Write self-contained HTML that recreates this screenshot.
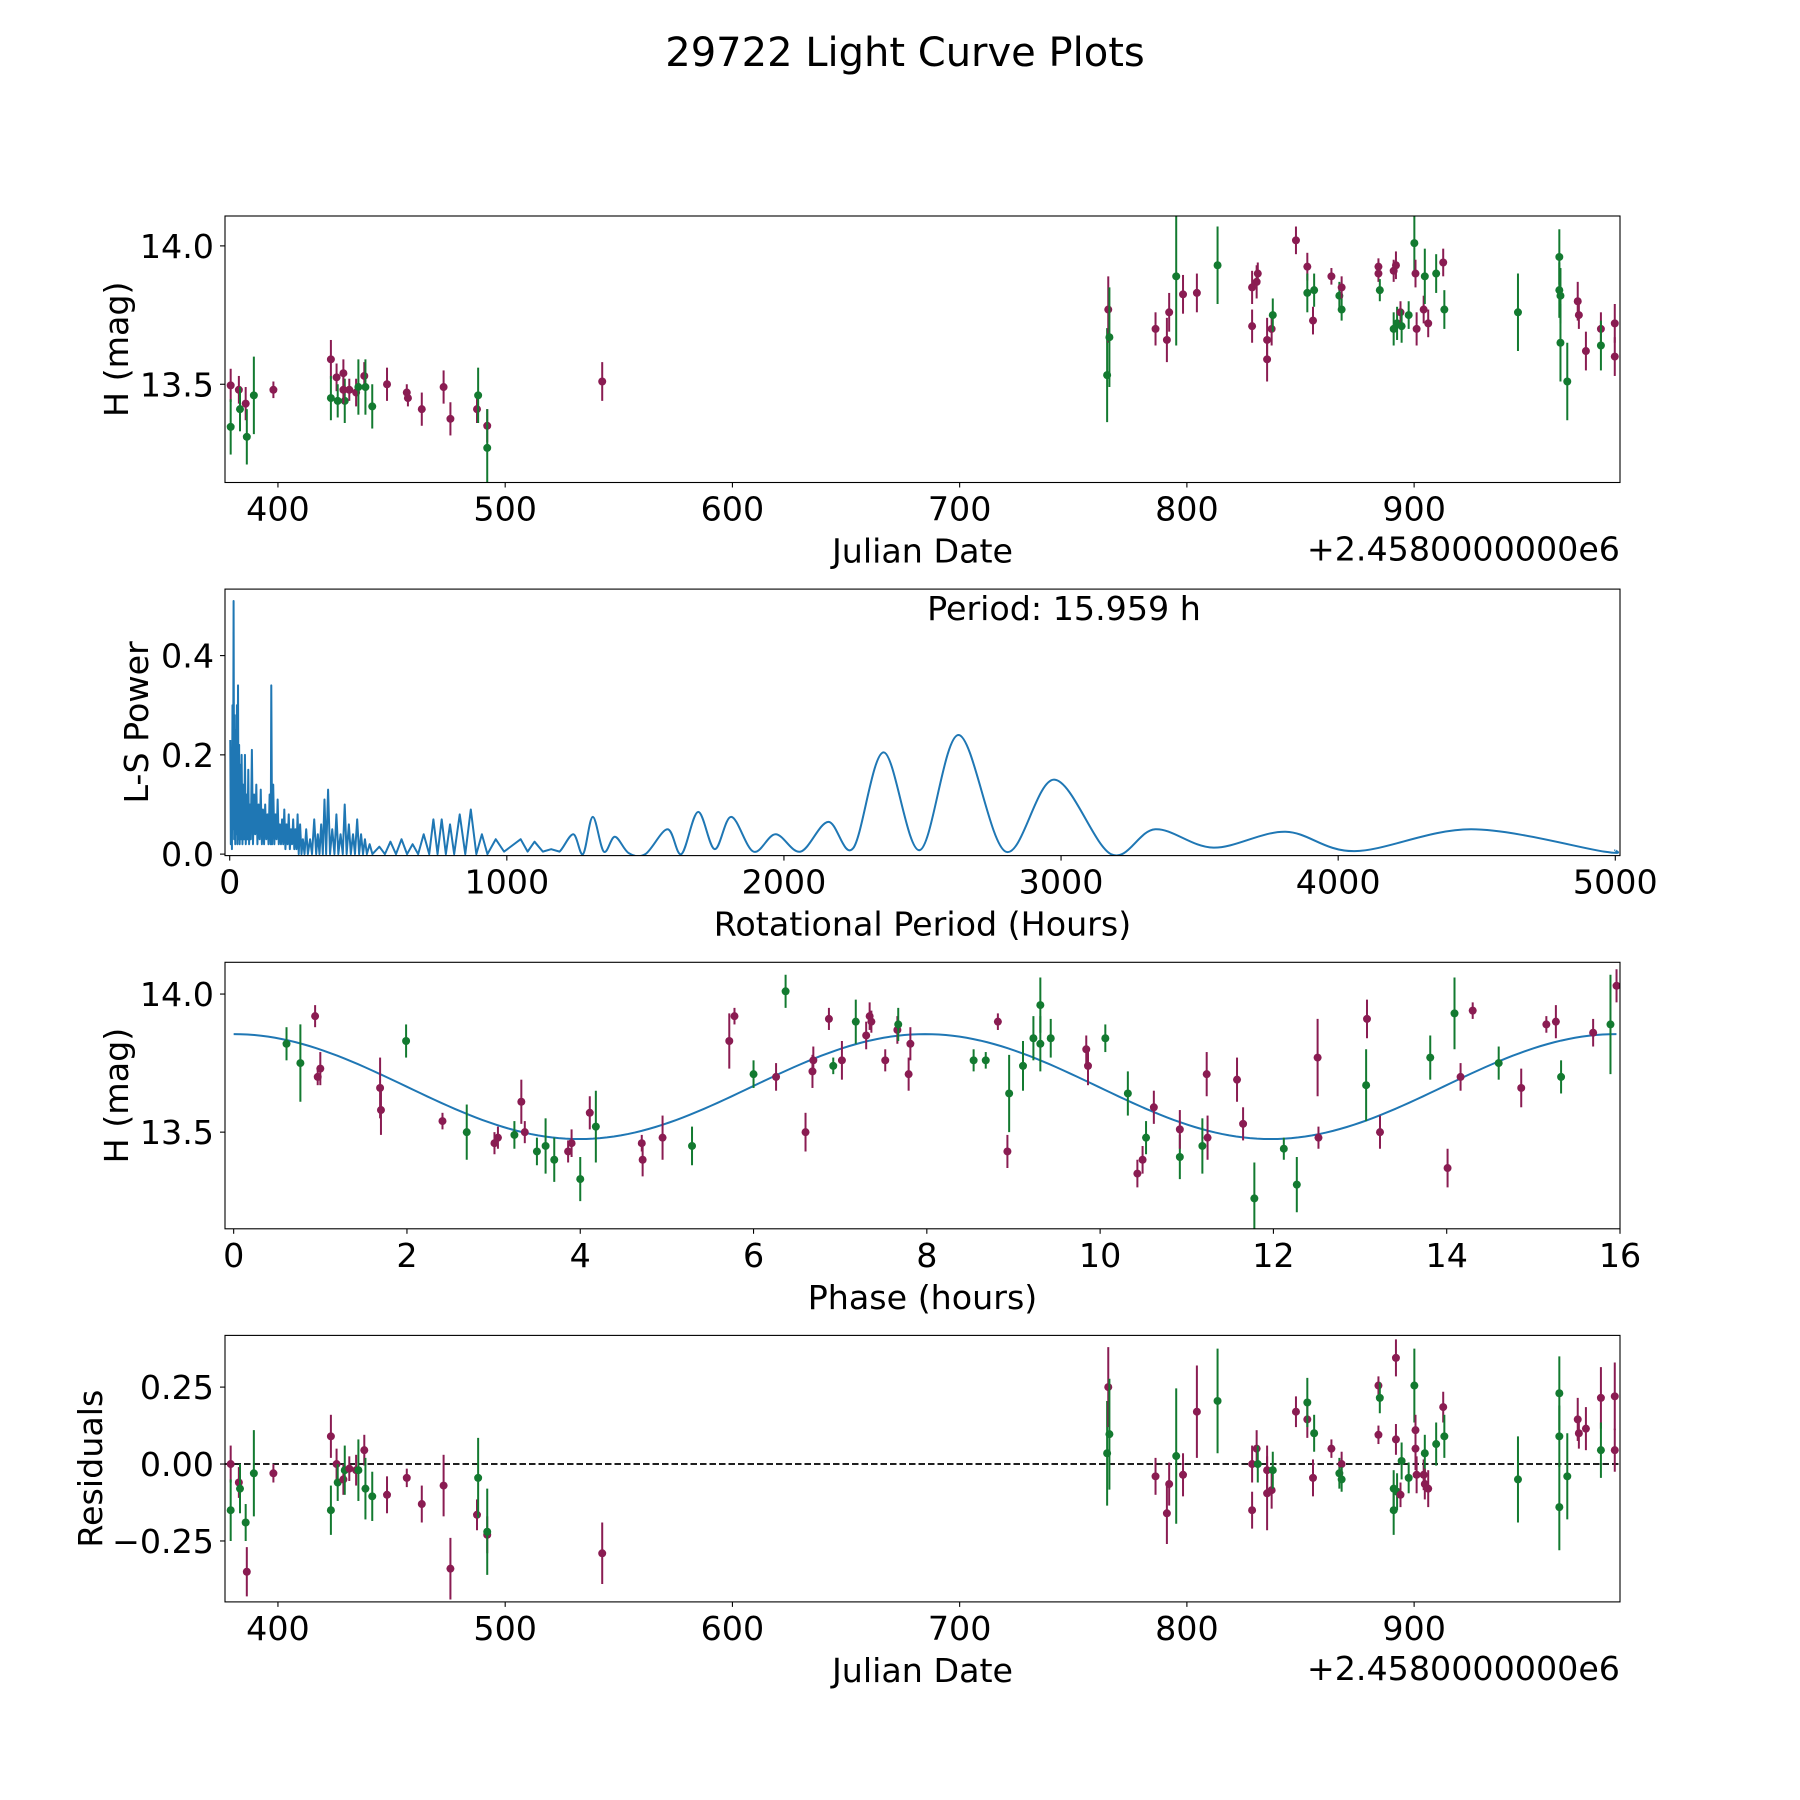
<!DOCTYPE html>
<html><head><meta charset="utf-8"><style>
html,body{margin:0;padding:0;background:#fff}
svg{display:block;font-family:"DejaVu Sans","Liberation Sans",sans-serif}
</style></head><body>
<svg id="fig" width="1800" height="1800" viewBox="0 0 1800 1800" xmlns="http://www.w3.org/2000/svg">
<rect width="1800" height="1800" fill="#fff"/>
<text x="905" y="66" font-size="40" text-anchor="middle">29722 Light Curve Plots</text>
</svg>
<script>
// ---- Light curve (panel 1) data ----
const lcJD = [379.2,379.2,382.8,383.3,385.8,386.3,389.4,398,423.3,423.3,425.8,426.3,428.8,429.4,428.8,431.4,434.4,435.4,438,438.5,441.5,448,456.7,457.2,463.3,472.9,475.9,487.6,488.1,492.1,492.1,542.7,
764.9,765.4,765.9,786.2,791.2,792.2,795.3,798.3,804.4,813.5,828.7,828.7,830.7,831.2,835.3,835.3,837.3,837.8,848,853,853,856,855.5,863.6,867.1,868.1,868.1,884.3,884.3,884.9,891,891,892,892.5,894,894.5,897.6,900.1,900.6,901.1,904.2,904.7,906.2,909.7,912.8,913.3,945.7,963.9,963.9,964.4,964.4,967.4,972,972.5,975.6,982.2,982.2,988.3,988.3];
const lcMag = [13.496,13.346,13.48,13.41,13.43,13.31,13.46,13.48,13.59,13.45,13.525,13.44,13.54,13.44,13.48,13.48,13.47,13.49,13.53,13.49,13.42,13.50,13.47,13.45,13.41,13.49,13.375,13.41,13.46,13.35,13.27,13.51,
13.533,13.77,13.67,13.70,13.66,13.76,13.89,13.825,13.83,13.93,13.85,13.71,13.87,13.90,13.59,13.66,13.70,13.75,14.02,13.925,13.83,13.84,13.73,13.89,13.82,13.85,13.77,13.925,13.90,13.84,13.70,13.91,13.93,13.72,13.76,13.71,13.75,14.01,13.90,13.70,13.77,13.89,13.72,13.90,13.94,13.77,13.76,13.96,13.84,13.82,13.65,13.51,13.80,13.75,13.62,13.70,13.64,13.72,13.60];
const lcErr = [0.06,0.1,0.05,0.08,0.06,0.1,0.14,0.03,0.07,0.08,0.05,0.06,0.05,0.08,0.05,0.04,0.05,0.1,0.05,0.1,0.08,0.06,0.03,0.03,0.06,0.06,0.06,0.05,0.1,0.06,0.14,0.07,
0.17,0.12,0.18,0.06,0.08,0.07,0.25,0.07,0.07,0.14,0.06,0.06,0.06,0.04,0.08,0.08,0.06,0.06,0.05,0.05,0.07,0.06,0.05,0.03,0.05,0.04,0.04,0.03,0.03,0.04,0.06,0.04,0.05,0.06,0.04,0.06,0.05,0.1,0.05,0.06,0.05,0.1,0.05,0.07,0.05,0.07,0.14,0.1,0.1,0.1,0.14,0.14,0.07,0.05,0.07,0.06,0.09,0.07,0.07];
const lcColor = ['p','g','p','g','p','g','g','p','p','g','p','g','p','g','p','p','p','g','p','g','g','p','p','p','p','p','p','p','g','p','g','p',
'g','p','g','p','p','p','g','p','p','g','p','p','p','p','p','p','p','g','p','p','g','g','p','p','g','p','g','p','p','g','g','p','p','g','p','g','g','g','p','p','p','g','p','g','p','g','g','g','g','g','g','g','p','p','p','p','g','p','p'];

// ---- Periodogram (panel 2) data ----
const lsPeriod = [2,4,6,8,10,12,14,16,18,20,22,24,26,28,30,32,34,36,38,40,43,46,49,52,55,58,61,64,67,70,73,76,80,84,88,92,96,100,104,108,112,116,120,124,128,132,136,140,144,148,150,153,157,161,165,169,173,177,181,185,189,193,197,201,205,209,213,217,221,225,229,233,237,241,245,249,254,259,264,270,276,282,290,297,305,312,318,324,330,336,342,348,355,362,370,378,385,392,400,408,415,422,430,437,445,452,460,467,474,481,488,495,505,515,540,560,580,600,620,640,660,680,700,720,735,750,765,780,795,810,830,850,870,890,910,930,960,990,1050,1075,1100,1130,1160,1190,
1240,1275,1310,1350,1390,1440,1500,1580,1630,1690,1750,1810,1890,1970,2060,2160,2250,2360,2490,2630,2800,2975,3180,3340,3550,3810,4060,4480,4960,5000];
const lsPower = [0.23,0.02,0.2,0.01,0.3,0.05,0.51,0.03,0.28,0.02,0.25,0.04,0.3,0.02,0.34,0.03,0.22,0.02,0.18,0.03,0.2,0.02,0.14,0.03,0.2,0.02,0.12,0.03,0.17,0.02,0.1,0.03,0.21,0.02,0.12,0.04,0.14,0.02,0.1,0.03,0.13,0.02,0.09,0.02,0.1,0.03,0.08,0.02,0.12,0.02,0.34,0.02,0.14,0.02,0.08,0.03,0.11,0.02,0.06,0.02,0.07,0.02,0.09,0.01,0.06,0.02,0.08,0.01,0.05,0.02,0.07,0.01,0.05,0.01,0.08,0.0,0.06,0.0,0.03,0.0,0.05,0.0,0.03,0.0,0.07,0.0,0.04,0.0,0.06,0.0,0.11,0.0,0.13,0.0,0.05,0.0,0.08,0.0,0.04,0.0,0.1,0.0,0.06,0.0,0.04,0.0,0.07,0.0,0.04,0.0,0.03,0.0,0.02,0.0,0.015,0.0,0.025,0.0,0.03,0.0,0.02,0.0,0.04,0.0,0.07,0.0,0.07,0.0,0.06,0.0,0.08,0.0,0.09,0.0,0.04,0.0,0.03,0.005,0.03,0.005,0.025,0.005,0.01,0.005,
0.04,0.0,0.075,0.005,0.035,0.002,0.0,0.05,0.0,0.085,0.01,0.075,0.005,0.04,0.005,0.065,0.012,0.205,0.008,0.24,0.005,0.15,0.0,0.05,0.013,0.045,0.006,0.05,0.005,0.008];
const lsSmoothFrom = 1190;
const periodLabel = ['Period: 15.959 h'];

// ---- Phase-folded (panel 3) data ----
const phPhase = [0.61,0.77,0.94,0.97,1.0,1.69,1.70,1.99,2.41,2.69,3.01,3.05,3.24,3.32,3.36,3.50,3.60,3.70,3.86,3.90,4.0,4.11,4.18,4.71,4.72,4.95,5.29,5.72,5.78,6.0,6.26,6.37,6.60,6.68,6.69,6.87,6.92,7.02,7.18,7.30,7.34,7.36,7.52,7.66,7.67,7.79,7.81,8.54,8.68,8.82,8.93,8.95,9.11,9.23,9.31,9.31,9.43,9.84,9.86,10.06,10.32,10.43,10.49,10.53,10.62,10.92,10.92,11.18,11.23,11.24,11.58,11.65,11.78,12.12,12.27,12.51,12.52,13.07,13.08,13.23,13.81,14.01,14.09,14.16,14.30,14.60,14.86,15.15,15.26,15.32,15.69,15.89,15.96];
const phMag = [13.82,13.75,13.92,13.70,13.73,13.66,13.58,13.83,13.54,13.50,13.46,13.48,13.49,13.61,13.50,13.43,13.45,13.40,13.43,13.46,13.33,13.57,13.52,13.46,13.40,13.48,13.45,13.83,13.92,13.71,13.70,14.01,13.50,13.72,13.76,13.91,13.74,13.76,13.90,13.85,13.92,13.90,13.76,13.87,13.89,13.71,13.82,13.76,13.76,13.90,13.43,13.64,13.74,13.84,13.82,13.96,13.84,13.80,13.74,13.84,13.64,13.35,13.40,13.48,13.59,13.41,13.51,13.45,13.71,13.48,13.69,13.53,13.26,13.44,13.31,13.77,13.48,13.67,13.91,13.50,13.77,13.37,13.93,13.70,13.94,13.75,13.66,13.89,13.90,13.70,13.86,13.89,14.03];
const phErr = [0.06,0.14,0.04,0.03,0.06,0.11,0.09,0.06,0.03,0.1,0.04,0.04,0.05,0.08,0.04,0.05,0.1,0.08,0.04,0.05,0.08,0.06,0.13,0.03,0.06,0.08,0.07,0.1,0.03,0.05,0.05,0.06,0.07,0.06,0.05,0.04,0.03,0.07,0.08,0.05,0.05,0.04,0.04,0.05,0.06,0.06,0.06,0.04,0.03,0.03,0.06,0.14,0.09,0.08,0.1,0.1,0.07,0.05,0.07,0.05,0.08,0.05,0.05,0.06,0.06,0.08,0.07,0.1,0.08,0.08,0.08,0.06,0.13,0.04,0.1,0.14,0.04,0.13,0.07,0.06,0.08,0.07,0.13,0.05,0.03,0.06,0.07,0.03,0.06,0.06,0.05,0.18,0.06];
const phColor = ['g','g','p','p','p','p','p','g','p','g','p','p','g','p','p','g','g','g','p','p','g','p','g','p','p','p','g','p','p','g','p','g','p','p','p','p','g','p','g','p','p','p','p','p','g','p','p','g','g','p','p','g','g','g','g','g','g','p','p','g','g','p','p','g','p','g','p','g','p','p','p','p','g','g','g','p','p','g','p','p','g','p','g','p','p','g','p','p','p','g','p','g','p'];
const modelMean = [13.665];
const modelAmp = [0.19];
const modelPeriod = [15.959];

// ---- Residuals (panel 4) data ----
const resJD = [379.2,379.2,382.8,383.3,385.8,386.3,389.4,398,423.3,423.3,425.8,426.3,428.8,429.4,431.4,434.4,435.4,438,438.5,441.5,448,456.7,463.3,472.9,475.9,487.6,488.1,492.1,492.1,542.7,
764.9,765.4,765.9,786.2,791.2,792.2,795.3,798.3,804.4,813.5,828.7,828.7,830.7,831.2,835.3,835.3,837.3,837.8,848,853,853,856,855.5,863.6,867.1,868.1,868.1,884.3,884.3,884.9,891,891,892,892,892.5,894,894.5,897.6,900.1,900.6,900.6,901.1,904.2,904.7,904.7,906.2,909.7,912.8,913.3,945.7,963.9,963.9,963.9,967.4,972,972.5,975.6,982.2,982.2,988.3,988.3];
const resVal = [0.0,-0.15,-0.06,-0.08,-0.19,-0.35,-0.03,-0.03,0.09,-0.15,0.0,-0.06,-0.05,-0.02,-0.015,-0.02,-0.02,0.045,-0.08,-0.105,-0.10,-0.045,-0.13,-0.07,-0.34,-0.165,-0.045,-0.23,-0.22,-0.29,
0.035,0.25,0.097,-0.04,-0.16,-0.065,0.026,-0.035,0.17,0.205,-0.15,0.0,0.05,0.0,-0.095,-0.02,-0.085,-0.02,0.17,0.145,0.2,0.1,-0.045,0.05,-0.03,0.0,-0.05,0.095,0.255,0.215,-0.08,-0.15,0.345,0.08,-0.09,-0.1,0.01,-0.045,0.255,0.11,0.05,-0.035,-0.035,0.035,-0.065,-0.08,0.065,0.185,0.09,-0.05,0.23,0.09,-0.14,-0.04,0.145,0.1,0.115,0.215,0.045,0.22,0.045];
const resErr = [0.06,0.1,0.05,0.08,0.06,0.08,0.14,0.03,0.07,0.08,0.05,0.06,0.05,0.08,0.04,0.05,0.1,0.05,0.1,0.08,0.06,0.03,0.06,0.1,0.1,0.05,0.13,0.06,0.14,0.1,
0.17,0.13,0.18,0.06,0.1,0.07,0.22,0.07,0.15,0.17,0.06,0.06,0.06,0.06,0.12,0.08,0.06,0.06,0.05,0.06,0.08,0.06,0.06,0.03,0.05,0.04,0.04,0.03,0.03,0.05,0.06,0.08,0.06,0.05,0.06,0.04,0.06,0.05,0.12,0.05,0.07,0.06,0.05,0.06,0.05,0.06,0.07,0.05,0.07,0.14,0.12,0.1,0.14,0.14,0.07,0.05,0.07,0.1,0.09,0.11,0.07];
const resColor = ['p','g','p','g','g','p','g','p','p','g','p','g','p','g','p','p','g','p','g','g','p','p','p','p','p','p','g','p','g','p',
'g','p','g','p','p','p','g','p','p','g','p','p','p','g','p','p','p','g','p','p','g','g','p','p','g','p','g','p','p','g','g','g','p','p','g','p','g','g','g','p','p','p','p','g','p','p','g','p','g','g','g','g','g','g','p','p','p','p','g','p','p'];

// ---- tick definitions ----
const jdTicks = [400,500,600,700,800,900];
const magTicks = [13.5,14.0];
const magTickLabels = ['13.5','14.0'];
const lsXTicks = [0,1000,2000,3000,4000,5000];
const lsYTicks = [0.0,0.2,0.4];
const lsYTickLabels = ['0.0','0.2','0.4'];
const phTicks = [0,2,4,6,8,10,12,14,16];
const resTicks = [-0.25,0.0,0.25];
const resTickLabels = ['\u22120.25','0.00','0.25'];

const NS='http://www.w3.org/2000/svg';
const svg=document.getElementById('fig');
const COL={p:'#8a1c52',g:'#137a30'};
const L=225,W=1395,H=266.5;
const FS=33.3;
const TOPS=[216,589.1,962.3,1335.4];
function el(tag,attrs,parent){const e=document.createElementNS(NS,tag);for(const k in attrs)e.setAttribute(k,attrs[k]);(parent||svg).appendChild(e);return e;}
function scale(d0,d1,r0,r1){return v=>r0+(v-d0)*(r1-r0)/(d1-d0);}

function makeAxes(i,xd,yd,name){
  const top=TOPS[i];
  const g=el('g',{});
  
  
  const clipId='clip'+i;
  const cp=el('clipPath',{id:clipId},g);
  el('rect',{x:L,y:top,width:W,height:H},cp);
  const plot=el('g',{'clip-path':'url(#'+clipId+')'},g);
  return {g,plot,top,x:scale(xd[0],xd[1],L,L+W),y:scale(yd[0],yd[1],top+H,top)};
}
function frame(ax){
  const f=el('rect',{x:L,y:ax.top,width:W,height:H,fill:'none',stroke:'#000','stroke-width':1.1},ax.g);
  
  
}
function xTicks(ax,vals,labels,name){
  const g=el('g',{},ax.g);
  
  
  vals.forEach((v,k)=>{const x=ax.x(v);const b=ax.top+H;
    el('line',{x1:x,x2:x,y1:b,y2:b+5,stroke:'#000','stroke-width':1.1},g);
    const t=el('text',{x:x,y:b+38,'font-size':FS,'text-anchor':'middle'},g);t.textContent=labels[k];});
}
function yTicks(ax,vals,labels,name){
  const g=el('g',{},ax.g);
  
  
  vals.forEach((v,k)=>{const y=ax.y(v);
    el('line',{x1:L-5,x2:L,y1:y,y2:y,stroke:'#000','stroke-width':1.1},g);
    const t=el('text',{x:L-11,y:y+12,'font-size':FS,'text-anchor':'end'},g);t.textContent=labels[k];});
}
function xLabel(ax,txt,name){const t=el('text',{x:L+W/2,y:ax.top+H+80,'font-size':FS,'text-anchor':'middle'},ax.g);t.textContent=txt;
  }
function yLabel(ax,txt,name,xx){const cy=ax.top+H/2;const t=el('text',{x:xx,y:cy,'font-size':FS,'text-anchor':'middle',transform:'rotate(-90 '+xx+' '+cy+')'},ax.g);t.textContent=txt;
  }
function offsetText(ax){const t=el('text',{x:L+W,y:ax.top+H+78,'font-size':FS,'text-anchor':'end'},ax.g);t.textContent='+2.4580000000e6';
  }
function errPoints(ax,xs,ys,es,cs,name){
  const g=el('g',{},ax.plot);
  
  
  for(let k=0;k<xs.length;k++){
    const x=ax.x(xs[k]),y=ax.y(ys[k]),c=COL[cs[k]];
    const ln=el('line',{x1:x,x2:x,y1:ax.y(ys[k]-es[k]),y2:ax.y(ys[k]+es[k]),stroke:c,'stroke-width':2},g);
    
    
    const p=el('circle',{cx:x,cy:y,r:4,fill:c},g);
    
    
  }
}

// Panel 1
const jdDom=[376.7,990.6];
const a1=makeAxes(0,jdDom,[13.145,14.108],'light-curve-axes');
errPoints(a1,lcJD,lcMag,lcErr,lcColor,'light-curve-points');
frame(a1);
xTicks(a1,jdTicks,jdTicks.map(String),'x-ticks-jd');
yTicks(a1,magTicks,magTickLabels,'y-ticks-mag');
xLabel(a1,'Julian Date','x-axis-title-jd');yLabel(a1,'H (mag)','y-axis-title-mag',128);offsetText(a1);

// Panel 2
const a2=makeAxes(1,[-17,5017],[-0.003,0.534],'periodogram-axes');
(function(){
  let d='';let idx=0;
  for(;idx<lsPeriod.length&&lsPeriod[idx]<=lsSmoothFrom;idx++){d+=(idx?'L':'M')+a2.x(lsPeriod[idx]).toFixed(2)+','+a2.y(lsPower[idx]).toFixed(2);}
  const P=lsPeriod.map((p,k)=>[a2.x(p),a2.y(lsPower[k])]);
  for(let k=idx-1;k<P.length-1;k++){
    const p0=P[Math.max(k-1,0)],p1=P[k],p2=P[k+1],p3=P[Math.min(k+2,P.length-1)];
    const c1=[p1[0]+(p2[0]-p0[0])/6,p1[1]+(p2[1]-p0[1])/6];
    const c2=[p2[0]-(p3[0]-p1[0])/6,p2[1]-(p3[1]-p1[1])/6];
    d+='C'+c1[0].toFixed(2)+','+c1[1].toFixed(2)+' '+c2[0].toFixed(2)+','+c2[1].toFixed(2)+' '+p2[0].toFixed(2)+','+p2[1].toFixed(2);
  }
  const path=el('path',{d:d,fill:'none',stroke:'#1f77b4','stroke-width':2,'stroke-linejoin':'round'},a2.plot);
  
  
})();
frame(a2);
xTicks(a2,lsXTicks,lsXTicks.map(String),'x-ticks-period');
yTicks(a2,lsYTicks,lsYTickLabels,'y-ticks-power');
xLabel(a2,'Rotational Period (Hours)','x-axis-title-period');yLabel(a2,'L-S Power','y-axis-title-power',148);
(function(){const t=el('text',{x:1064,y:620,'font-size':FS,'text-anchor':'middle'},a2.g);t.textContent=periodLabel[0];
  })();

// Panel 3
const a3=makeAxes(2,[-0.1,16],[13.15,14.115],'phase-axes');
(function(){let d='';for(let k=0;k<=200;k++){const ph=modelPeriod[0]*k/200;const m=modelMean[0]+modelAmp[0]*Math.cos(4*Math.PI*ph/modelPeriod[0]);
  d+=(k?'L':'M')+a3.x(ph).toFixed(2)+','+a3.y(m).toFixed(2);}
  const p=el('path',{d:d,fill:'none',stroke:'#1f77b4','stroke-width':2},a3.plot);
  })();
errPoints(a3,phPhase,phMag,phErr,phColor,'phase-points');
frame(a3);
xTicks(a3,phTicks,phTicks.map(String),'x-ticks-phase');
yTicks(a3,magTicks,magTickLabels,'y-ticks-phase-mag');
xLabel(a3,'Phase (hours)','x-axis-title-phase');yLabel(a3,'H (mag)','y-axis-title-phase-mag',128);

// Panel 4
const a4=makeAxes(3,jdDom,[-0.448,0.418],'residuals-axes');
(function(){const y=a4.y(0);const l=el('line',{x1:L,x2:L+W,y1:y,y2:y,stroke:'#000','stroke-width':1.8,'stroke-dasharray':'6.5,3'},a4.plot);
  })();
errPoints(a4,resJD,resVal,resErr,resColor,'residual-points');
frame(a4);
xTicks(a4,jdTicks,jdTicks.map(String),'x-ticks-res-jd');
yTicks(a4,resTicks,resTickLabels,'y-ticks-residuals');
xLabel(a4,'Julian Date','x-axis-title-res-jd');yLabel(a4,'Residuals','y-axis-title-residuals',102);offsetText(a4);
</script>
</body></html>
